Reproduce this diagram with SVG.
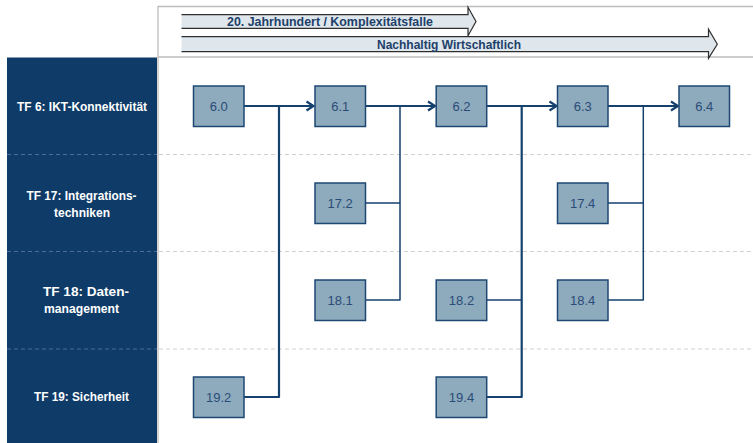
<svg xmlns="http://www.w3.org/2000/svg" width="753" height="443" viewBox="0 0 753 443">
  <style>
    .frame { stroke: #bdbdbd; stroke-width: 1.3; fill: none; }
    .sep { stroke: #d0d0d0; stroke-width: 1; stroke-dasharray: 4 3; fill: none; }
    .sepd { stroke: #4d6d92; stroke-width: 1; stroke-dasharray: 4 3; fill: none; }
    .lbl { font-family: "Liberation Sans Narrow", "Liberation Sans", Arial, sans-serif; font-weight: bold; font-size: 12.5px; fill: #ffffff; text-anchor: middle; }
    .hdr { font-family: "Liberation Sans Narrow", "Liberation Sans", Arial, sans-serif; font-weight: bold; font-size: 13px; fill: #1d3f69; text-anchor: middle; }
    .box { fill: #8eaabd; stroke: #1d4873; stroke-width: 1.5; }
    .bt { font-family: "Liberation Sans", Arial, sans-serif; font-size: 13px; fill: #2a4c77; text-anchor: middle; }
    .thick { stroke: #15416e; stroke-width: 2.2; fill: none; stroke-linejoin: round; }
    .thin { stroke: #15416e; stroke-width: 1.5; fill: none; stroke-linejoin: round; }
    .af { fill: #dfe7ed; stroke: none; }
    .ae { fill: none; stroke: #2e2e2e; stroke-width: 1.2; stroke-linejoin: miter; }
  </style>
  <defs>
    <marker id="chev" markerUnits="userSpaceOnUse" markerWidth="12" markerHeight="12" viewBox="0 0 12 12" refX="9" refY="6" orient="auto">
      <path d="M2,1.5 L9,6 L2,10.5" fill="none" stroke="#15416e" stroke-width="2.2" stroke-linejoin="miter"/>
    </marker>
  </defs>

  <rect x="0" y="0" width="753" height="443" fill="#ffffff"/>

  <!-- frame -->
  <g id="frame">
    <path class="frame" d="M158,6.5 H753 M158,57 H753 M158,6 V443"/>
  </g>

  <!-- header arrows -->
  <g id="arrow-20jh">
    <polygon class="af" points="181.5,14.7 468,14.7 468,7.3 476,21.5 468,35.7 468,28.3 181.5,28.3"/>
    <polyline class="ae" points="181.5,14.7 468,14.7 468,7.3 476,21.5 468,35.7 468,28.3 181.5,28.3"/>
    <text class="hdr" x="330" y="26" textLength="206" lengthAdjust="spacingAndGlyphs">20. Jahrhundert / Komplexitätsfalle</text>
  </g>
  <g id="arrow-nachhaltig">
    <polygon class="af" points="181.5,36.7 708.5,36.7 708.5,29.3 717.3,44.2 708.5,58.3 708.5,51.7 181.5,51.7"/>
    <polyline class="ae" points="181.5,36.7 708.5,36.7 708.5,29.3 717.3,44.2 708.5,58.3 708.5,51.7 181.5,51.7"/>
    <text class="hdr" x="449" y="48.5" textLength="144" lengthAdjust="spacingAndGlyphs">Nachhaltig Wirtschaftlich</text>
  </g>

  <!-- left panel -->
  <g id="panel">
    <rect x="7" y="57.5" width="150" height="385.5" fill="#0e3b67"/>
    <path class="sepd" d="M7,154.5 H157 M7,251.5 H157 M7,349 H157"/>
  </g>
  <path class="sep" d="M159,154.5 H753 M159,251.5 H753 M159,349 H753"/>

  <g id="row-tf6">
    <text class="lbl" x="82" y="111" textLength="130" lengthAdjust="spacingAndGlyphs">TF 6: IKT-Konnektivität</text>
  </g>
  <g id="row-tf17">
    <text class="lbl" x="81.5" y="200" textLength="110" lengthAdjust="spacingAndGlyphs">TF 17: Integrations-</text>
    <text class="lbl" x="82" y="216.5" textLength="56" lengthAdjust="spacingAndGlyphs">techniken</text>
  </g>
  <g id="row-tf18">
    <text class="lbl" x="86" y="296" textLength="86" lengthAdjust="spacingAndGlyphs">TF 18: Daten-</text>
    <text class="lbl" x="81.5" y="313" textLength="75" lengthAdjust="spacingAndGlyphs">management</text>
  </g>
  <g id="row-tf19">
    <text class="lbl" x="81.5" y="401" textLength="95" lengthAdjust="spacingAndGlyphs">TF 19: Sicherheit</text>
  </g>

  <!-- connectors -->
  <g id="connectors">
    <path class="thick" d="M244,106 H313.5" marker-end="url(#chev)"/>
    <path class="thick" d="M244,397 H279 V106"/>
    <path class="thick" d="M365.5,106 H435" marker-end="url(#chev)"/>
    <path class="thin" d="M365.5,203 H400"/>
    <path class="thin" d="M365.5,300 H400 V106"/>
    <path class="thick" d="M487,106 H556.5" marker-end="url(#chev)"/>
    <path class="thin" d="M487,300 H521.7"/>
    <path class="thick" d="M487,397 H521.7 V106"/>
    <path class="thick" d="M608,106 H678" marker-end="url(#chev)"/>
    <path class="thin" d="M608,203 H643.3"/>
    <path class="thin" d="M608,300 H643.3 V106"/>
  </g>

  <!-- nodes -->
  <g id="n6-0"><rect class="box" x="193.5" y="86" width="50.5" height="40.5"/><text class="bt" x="218.7" y="110.7">6.0</text></g>
  <g id="n6-1"><rect class="box" x="315" y="86" width="50.5" height="40.5"/><text class="bt" x="340.2" y="110.7">6.1</text></g>
  <g id="n6-2"><rect class="box" x="436.2" y="86" width="50.5" height="40.5"/><text class="bt" x="461.5" y="110.7">6.2</text></g>
  <g id="n6-3"><rect class="box" x="557.5" y="86" width="50.5" height="40.5"/><text class="bt" x="582.7" y="110.7">6.3</text></g>
  <g id="n6-4"><rect class="box" x="679" y="86" width="50.5" height="40.5"/><text class="bt" x="704.2" y="110.7">6.4</text></g>
  <g id="n17-2"><rect class="box" x="315" y="183" width="50.5" height="40.5"/><text class="bt" x="340.2" y="207.7">17.2</text></g>
  <g id="n17-4"><rect class="box" x="557.5" y="183" width="50.5" height="40.5"/><text class="bt" x="582.7" y="207.7">17.4</text></g>
  <g id="n18-1"><rect class="box" x="315" y="280" width="50.5" height="40.5"/><text class="bt" x="340.2" y="304.7">18.1</text></g>
  <g id="n18-2"><rect class="box" x="436.2" y="280" width="50.5" height="40.5"/><text class="bt" x="461.5" y="304.7">18.2</text></g>
  <g id="n18-4"><rect class="box" x="557.5" y="280" width="50.5" height="40.5"/><text class="bt" x="582.7" y="304.7">18.4</text></g>
  <g id="n19-2"><rect class="box" x="193.5" y="377" width="50.5" height="40.5"/><text class="bt" x="218.7" y="401.7">19.2</text></g>
  <g id="n19-4"><rect class="box" x="436.2" y="377" width="50.5" height="40.5"/><text class="bt" x="461.5" y="401.7">19.4</text></g>
</svg>
